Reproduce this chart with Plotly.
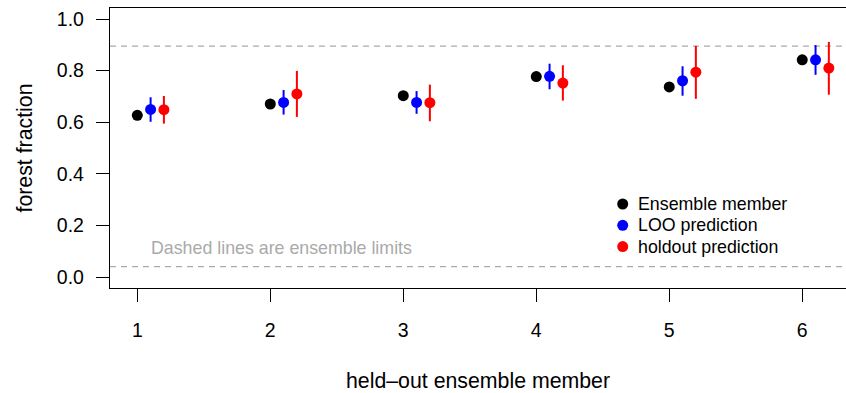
import plotly.graph_objects as go

# ---- data ----
members = [1, 2, 3, 4, 5, 6]
ensemble_member = [0.627, 0.671, 0.703, 0.777, 0.737, 0.842]
loo_pred = [0.650, 0.677, 0.677, 0.778, 0.761, 0.842]
loo_lo = [0.602, 0.630, 0.633, 0.728, 0.703, 0.784]
loo_hi = [0.697, 0.725, 0.721, 0.827, 0.817, 0.899]
holdout_pred = [0.649, 0.710, 0.676, 0.752, 0.794, 0.810]
holdout_lo = [0.595, 0.621, 0.604, 0.684, 0.691, 0.707]
holdout_hi = [0.702, 0.799, 0.746, 0.821, 0.896, 0.911]
ens_limits = [0.041, 0.895]
y_ticks = [0.0, 0.2, 0.4, 0.6, 0.8, 1.0]
series_names = ["Ensemble member", "LOO prediction", "holdout prediction"]
series_colors = ["black", "#0000ff", "#ff0000"]

FONT = "Liberation Sans, Arial, Helvetica, sans-serif"
W, H = 846, 393
ML, MR, MT, MB = 110, 0, 8, 105
PW, PH = W - ML - MR, H - MT - MB

loo_x = [m + 0.1 for m in members]
hold_x = [m + 0.2 for m in members]

fig = go.Figure()

fig.add_trace(go.Scatter(
    x=members, y=ensemble_member, mode="markers", name=series_names[0],
    marker=dict(color=series_colors[0], size=11, line=dict(width=0)),
))
fig.add_trace(go.Scatter(
    x=loo_x, y=loo_pred, mode="markers", name=series_names[1],
    marker=dict(color=series_colors[1], size=11, line=dict(width=0)),
    error_y=dict(type="data", symmetric=False,
                 array=[h - v for h, v in zip(loo_hi, loo_pred)],
                 arrayminus=[v - l for v, l in zip(loo_pred, loo_lo)],
                 color=series_colors[1], thickness=2, width=0),
))
fig.add_trace(go.Scatter(
    x=hold_x, y=holdout_pred, mode="markers", name=series_names[2],
    marker=dict(color=series_colors[2], size=11, line=dict(width=0)),
    error_y=dict(type="data", symmetric=False,
                 array=[h - v for h, v in zip(holdout_hi, holdout_pred)],
                 arrayminus=[v - l for v, l in zip(holdout_pred, holdout_lo)],
                 color=series_colors[2], thickness=2, width=0),
))

for lim in ens_limits:
    fig.add_shape(type="line", xref="paper", x0=0, x1=1, yref="y", y0=lim, y1=lim,
                  line=dict(color="#aaaaaa", width=1.3, dash="6px,5px"), layer="below")

fig.add_annotation(x=1.09, y=0.113, xref="x", yref="y", text="Dashed lines are ensemble limits",
                   showarrow=False, xanchor="left", yanchor="middle",
                   font=dict(family=FONT, size=17.8, color="#aaaaaa"))

# ---- legend (drawn as keys + labels, like R's legend()) ----
leg_dot_px = 622.7
leg_text_px = 636.0
leg_rows_px = [204.0, 225.3, 246.6]
r = 5.5
for name, col, ypx in zip(series_names, series_colors, leg_rows_px):
    cx = (leg_dot_px - ML) / PW
    cy = (H - MB - ypx) / PH
    fig.add_shape(type="circle", xref="paper", yref="paper",
                  x0=cx - r / PW, x1=cx + r / PW, y0=cy - r / PH, y1=cy + r / PH,
                  fillcolor=col, line=dict(width=0))
    fig.add_annotation(x=(leg_text_px - ML) / PW, y=cy, xref="paper", yref="paper",
                       text=name, showarrow=False, xanchor="left", yanchor="middle",
                       font=dict(family=FONT, size=17.8, color="black"))

fig.update_layout(
    width=W, height=H,
    margin=dict(l=ML, r=MR, t=MT, b=MB, pad=0),
    paper_bgcolor="white", plot_bgcolor="white",
    font=dict(family=FONT, size=17.8, color="black"),
    showlegend=False,
    xaxis=dict(range=[0.7947, 6.329], tickvals=members, ticktext=[str(m) for m in members],
               showgrid=False, zeroline=False, showline=True, mirror=True,
               linecolor="black", linewidth=1.3, ticks="outside", ticklen=13,
               tickwidth=1.3, tickcolor="black", ticklabelstandoff=11,
               tickfont=dict(family=FONT, size=19.5, color="black"),
               title=dict(text="held\u2013out ensemble member", standoff=33,
                          font=dict(family=FONT, size=21.3, color="black"))),
    yaxis=dict(range=[-0.0414, 1.0426], tickvals=y_ticks, tickformat=".1f",
               showgrid=False, zeroline=False, showline=True, mirror=False,
               linecolor="black", linewidth=1.3, ticks="outside", ticklen=13,
               tickwidth=1.3, tickcolor="black", ticklabelstandoff=8,
               tickfont=dict(family=FONT, size=19.5, color="black"),
               title=dict(text="forest fraction", standoff=18,
                          font=dict(family=FONT, size=21.3, color="black"))),
)

fig.write_html("out.html")
